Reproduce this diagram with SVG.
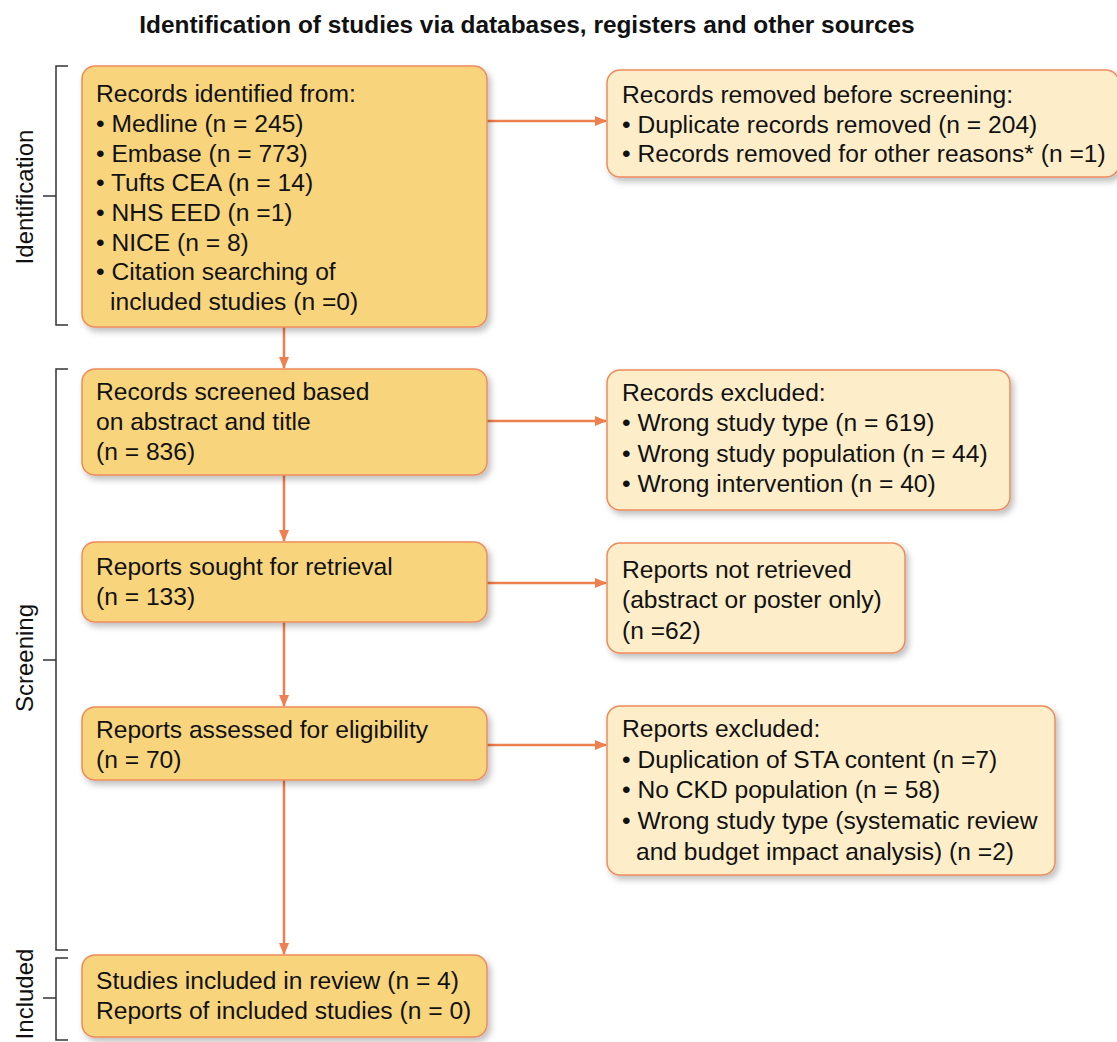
<svg xmlns="http://www.w3.org/2000/svg" width="1117" height="1042" viewBox="0 0 1117 1042">
<defs>
<filter id="sh" x="-10%" y="-10%" width="125%" height="130%">
<feDropShadow dx="3" dy="4" stdDeviation="3" flood-color="#000" flood-opacity="0.25"/>
</filter>
<marker id="ah" markerWidth="12" markerHeight="12" refX="11" refY="6" orient="auto" markerUnits="userSpaceOnUse">
<path d="M0,1 L12,6 L0,11 Z" fill="#EE7F4E"/>
</marker>
</defs>
<style>
.t{font-family:"Liberation Sans",Arial,sans-serif;font-size:24.6px;fill:#111}
.title{font-family:"Liberation Sans",Arial,sans-serif;font-size:24.4px;font-weight:bold;fill:#111}
.dark{fill:#F8D57C;stroke:#EE8A5C;stroke-width:1.5;filter:url(#sh)}
.light{fill:#FDEDC9;stroke:#EE8A5C;stroke-width:1.5;filter:url(#sh)}
.c{stroke:#EE7F4E;stroke-width:2.5;fill:none}
.br{stroke:#333;stroke-width:1.5;fill:none}
.lab{font-family:"Liberation Sans",Arial,sans-serif;font-size:24px;fill:#111}
</style>
<rect width="1117" height="1042" fill="#fff"/>
<text class="title" x="527" y="33" text-anchor="middle">Identification of studies via databases, registers and other sources</text>

<g id="brackets">
<path class="br" d="M68,66 H56 V325 H68 M56,196 H43"/>
<text class="lab" transform="translate(33,197) rotate(-90)" text-anchor="middle">Identification</text>
<path class="br" d="M68,369 H56 V950 H68 M56,660 H43"/>
<text class="lab" transform="translate(33,658) rotate(-90)" text-anchor="middle">Screening</text>
<path class="br" d="M68,958 H56 V1040 H68 M56,998 H43"/>
<text class="lab" transform="translate(33,994) rotate(-90)" text-anchor="middle">Included</text>
</g>

<g id="connectors">
<line class="c" x1="284" y1="327" x2="284" y2="368" marker-end="url(#ah)"/>
<line class="c" x1="284" y1="475" x2="284" y2="541" marker-end="url(#ah)"/>
<line class="c" x1="284" y1="622" x2="284" y2="706" marker-end="url(#ah)"/>
<line class="c" x1="284" y1="780" x2="284" y2="954" marker-end="url(#ah)"/>
<line class="c" x1="487" y1="121" x2="606" y2="121" marker-end="url(#ah)"/>
<line class="c" x1="487" y1="421" x2="606" y2="421" marker-end="url(#ah)"/>
<line class="c" x1="487" y1="583" x2="606" y2="583" marker-end="url(#ah)"/>
<line class="c" x1="487" y1="745" x2="606" y2="745" marker-end="url(#ah)"/>
</g>

<g id="identified">
<rect class="dark" x="82" y="66" width="405" height="261" rx="13"/>
<text class="t" x="96" y="102">Records identified from:</text>
<text class="t" x="96" y="132">• Medline (n = 245)</text>
<text class="t" x="96" y="162">• Embase (n = 773)</text>
<text class="t" x="96" y="191">• Tufts CEA (n = 14)</text>
<text class="t" x="96" y="221">• NHS EED (n =1)</text>
<text class="t" x="96" y="251">• NICE (n = 8)</text>
<text class="t" x="96" y="280">• Citation searching of</text>
<text class="t" x="110" y="310">included studies (n =0)</text>
</g>

<g id="removed">
<rect class="light" x="607" y="70" width="512" height="107" rx="13"/>
<text class="t" x="622" y="103">Records removed before screening:</text>
<text class="t" x="622" y="133">• Duplicate records removed (n = 204)</text>
<text class="t" x="622" y="162">• Records removed for other reasons* (n =1)</text>
</g>

<g id="screened">
<rect class="dark" x="82" y="369" width="405" height="106" rx="13"/>
<text class="t" x="96" y="400">Records screened based</text>
<text class="t" x="96" y="430">on abstract and title</text>
<text class="t" x="96" y="460">(n = 836)</text>
</g>

<g id="excluded">
<rect class="light" x="607" y="370" width="403" height="140" rx="13"/>
<text class="t" x="622" y="401">Records excluded:</text>
<text class="t" x="622" y="431">• Wrong study type (n = 619)</text>
<text class="t" x="622" y="462">• Wrong study population (n = 44)</text>
<text class="t" x="622" y="492">• Wrong intervention (n = 40)</text>
</g>

<g id="sought">
<rect class="dark" x="82" y="542" width="405" height="80" rx="13"/>
<text class="t" x="96" y="575">Reports sought for retrieval</text>
<text class="t" x="96" y="605">(n = 133)</text>
</g>

<g id="notretrieved">
<rect class="light" x="607" y="543" width="298" height="110" rx="13"/>
<text class="t" x="622" y="578">Reports not retrieved</text>
<text class="t" x="622" y="608">(abstract or poster only)</text>
<text class="t" x="622" y="639">(n =62)</text>
</g>

<g id="assessed">
<rect class="dark" x="82" y="707" width="405" height="73" rx="13"/>
<text class="t" x="96" y="738">Reports assessed for eligibility</text>
<text class="t" x="96" y="768">(n = 70)</text>
</g>

<g id="reportsexcluded">
<rect class="light" x="607" y="706" width="448" height="169" rx="13"/>
<text class="t" x="622" y="737">Reports excluded:</text>
<text class="t" x="622" y="768">• Duplication of STA content (n =7)</text>
<text class="t" x="622" y="798">• No CKD population (n = 58)</text>
<text class="t" x="622" y="829">• Wrong study type (systematic review</text>
<text class="t" x="636" y="860">and budget impact analysis) (n =2)</text>
</g>

<g id="included">
<rect class="dark" x="82" y="955" width="405" height="82" rx="13"/>
<text class="t" x="96" y="989">Studies included in review (n = 4)</text>
<text class="t" x="96" y="1019">Reports of included studies (n = 0)</text>
</g>
</svg>
